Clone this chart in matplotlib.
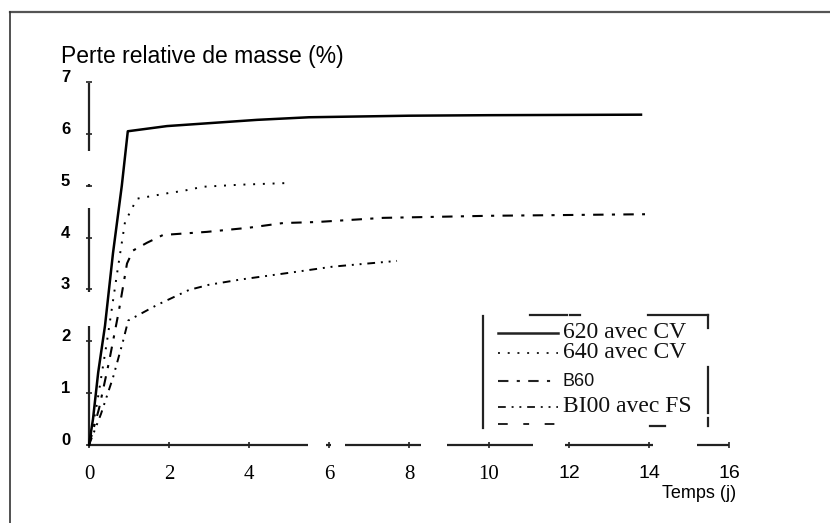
import matplotlib
matplotlib.use("Agg")
import matplotlib.pyplot as plt
from matplotlib.lines import Line2D

# ---- data ----
t_620 = [0, 0.1, 0.23, 0.4, 0.6, 0.82, 0.97, 1.95, 4.2, 5.5, 8, 10, 13.8]
m_620 = [0, 0.5, 1.4, 2.3, 3.7, 5.0, 6.05, 6.15, 6.27, 6.32, 6.35, 6.36, 6.37]

t_640 = [0, 0.2, 0.45, 0.7, 0.9, 1.2, 2.0, 2.35, 2.85, 3.8, 4.9]
m_640 = [0, 0.8, 2.0, 3.3, 4.3, 4.75, 4.86, 4.9, 4.98, 5.02, 5.05]

t_b60 = [0, 0.25, 0.5, 0.75, 0.95, 1.1, 1.45, 1.85, 2.95, 4.0, 4.85, 5.7, 7.35, 10, 13.9]
m_b60 = [0, 0.7, 1.6, 2.6, 3.5, 3.75, 3.9, 4.05, 4.11, 4.19, 4.28, 4.3, 4.38, 4.42, 4.45]

t_b100 = [0, 0.3, 0.6, 0.85, 0.98, 1.7, 2.5, 3.0, 3.78, 5.0, 6.1, 7.7]
m_b100 = [0, 0.6, 1.3, 2.0, 2.4, 2.7, 2.99, 3.09, 3.19, 3.32, 3.44, 3.55]

legend_labels = ["620 avec CV", "640 avec CV", "B60", "BI00 avec FS", ""]
x_ticks = [0, 2, 4, 6, 8, 10, 12, 14, 16]
y_ticks = [0, 1, 2, 3, 4, 5, 6, 7]
title_text = "Perte relative de masse (%)"
xlabel_text = "Temps (j)"

W, H = 830, 523
fig = plt.figure(figsize=(W / 100, H / 100), dpi=100)
fig.patch.set_facecolor("white")

def px(x, y):
    return x / W, 1 - y / H

# outer frame (top and left edges)
fig.add_artist(Line2D([px(10, 0)[0], px(830, 0)[0]], [px(0, 12)[1]] * 2,
                      transform=fig.transFigure, color="#555555", lw=1.6))
fig.add_artist(Line2D([px(10, 0)[0]] * 2, [px(0, 12)[1], px(0, 523)[1]],
                      transform=fig.transFigure, color="#333333", lw=1.2))

left, right = 89, 729
top, bottom = 82, 445
ax = fig.add_axes([left / W, (H - bottom) / H, (right - left) / W, (bottom - top) / H])
ax.set_xlim(0, 16)
ax.set_ylim(0, 7)
for s in ax.spines.values():
    s.set_visible(False)
ax.patch.set_alpha(0)

# broken axis lines (as in the scan)
for a, b in [(0, 5.48), (5.93, 6.05), (6.4, 8.3), (8.95, 11.1), (11.9, 14.1), (15.2, 16.0)]:
    ax.plot([a, b], [0, 0], color="#222222", lw=1.6, clip_on=False, solid_capstyle="butt")
for a, b in [(0, 2.3), (2.95, 4.57), (4.98, 5.03), (5.66, 6.98)]:
    ax.plot([0, 0], [a, b], color="#222222", lw=1.6, clip_on=False, solid_capstyle="butt")

ax.set_xticks(x_ticks)
ax.set_yticks(y_ticks)
ax.tick_params(axis="both", direction="inout", length=5, width=1.2, color="#222222")
ax.tick_params(axis="x", pad=12)
ax.tick_params(axis="y", pad=11)
ax.set_xticklabels([str(v) for v in x_ticks])
ax.set_yticklabels([str(v) for v in y_ticks])
for lab, v in zip(ax.get_xticklabels(), x_ticks):
    if v <= 10:
        lab.set_fontfamily("Liberation Serif")
        lab.set_fontsize(15)
    else:
        lab.set_fontfamily("Liberation Sans")
        lab.set_fontsize(14)
for lab in ax.get_yticklabels():
    lab.set_fontfamily("Liberation Sans")
    lab.set_fontsize(12)
    lab.set_fontweight("bold")
    lab.set_verticalalignment("baseline")

# data curves
ax.plot(t_620, m_620, color="black", lw=1.8, clip_on=False)
ax.plot(t_640, m_640, color="black", lw=1.4, linestyle=(0, (1, 4)), clip_on=False)
ax.plot(t_b60, m_b60, color="black", lw=1.5, linestyle=(0, (5, 4, 1.5, 4)), clip_on=False)
ax.plot(t_b100, m_b100, color="black", lw=1.4, linestyle=(0, (4, 3, 1, 3, 1, 3)), clip_on=False)

# title and x label
fig.text(*px(61, 57), title_text, fontfamily="Liberation Sans", fontsize=16.5, va="center", ha="left")
fig.text(*px(736, 493), xlabel_text, fontfamily="Liberation Sans", fontsize=13, va="center", ha="right")

# legend (broken box, drawn manually)
def fline(xs, ys, **kw):
    X = [px(x, 0)[0] for x in xs]
    Y = [px(0, y)[1] for y in ys]
    fig.add_artist(Line2D(X, Y, transform=fig.transFigure, color="#222222", **kw))

fline([483, 483], [316, 428], lw=1.6)
fline([530, 567], [315, 315], lw=1.6)
fline([570, 580], [315, 315], lw=1.6)
fline([648, 708], [315, 315], lw=1.6)
fline([708, 708], [315, 328], lw=1.6)
fline([708, 708], [367, 413], lw=1.6)
fline([708, 708], [418, 426], lw=1.6)
fline([650, 665], [426, 426], lw=1.6)

styles = [
    dict(lw=1.8, linestyle="-"),
    dict(lw=1.4, linestyle=(0, (1, 4))),
    dict(lw=1.5, linestyle=(0, (5, 4, 1.5, 4))),
    dict(lw=1.4, linestyle=(0, (4, 3, 1, 3, 1, 3))),
    dict(lw=1.4, linestyle=(0, (5, 8, 3, 8))),
]
rows = [333, 353, 381, 407, 424]
for lbl, st, ry in zip(legend_labels, styles, rows):
    fline([498, 558], [ry, ry], **st)
    if lbl:
        serif = lbl != "B60"
        fig.text(*px(563, ry), lbl,
                 fontfamily="Liberation Serif" if serif else "Liberation Sans",
                 fontsize=17 if serif else 13,
                 va="center", ha="left", color="#111111")

fig.savefig("out.png", dpi=100)
